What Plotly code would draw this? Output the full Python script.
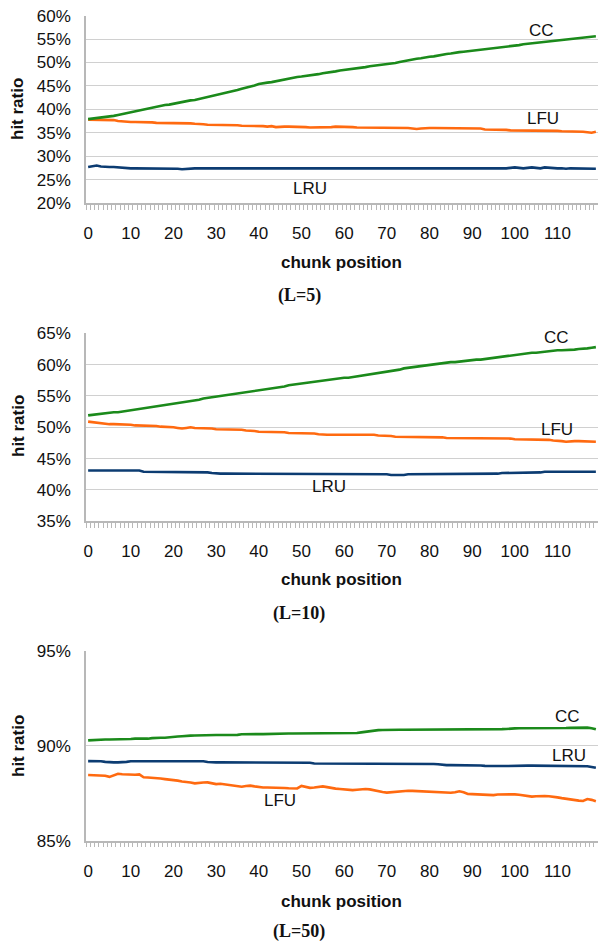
import plotly.graph_objects as go

positions = list(range(120))
x_tick_values = [0, 10, 20, 30, 40, 50, 60, 70, 80, 90, 100, 110]
x_tick_labels = [str(v) for v in x_tick_values]

# ---- L=5 ----
cc_l5 = [37.9, 38.0, 38.1, 38.3, 38.4, 38.5, 38.6, 38.8, 39.0, 39.2,
         39.4, 39.5, 39.7, 40.0, 40.2, 40.3, 40.5, 40.7, 40.9, 41.0,
         41.2, 41.4, 41.6, 41.7, 41.9, 42.0, 42.2, 42.4, 42.6, 42.8,
         43.0, 43.2, 43.5, 43.7, 43.9, 44.1, 44.4, 44.6, 44.8, 45.1,
         45.4, 45.6, 45.7, 45.8, 46.0, 46.2, 46.3, 46.5, 46.7, 46.9,
         47.0, 47.1, 47.2, 47.4, 47.5, 47.7, 47.8, 47.9, 48.1, 48.3,
         48.4, 48.5, 48.6, 48.8, 48.9, 49.0, 49.2, 49.3, 49.4, 49.5,
         49.7, 49.8, 49.9, 50.1, 50.3, 50.4, 50.6, 50.8, 50.9, 51.1,
         51.2, 51.3, 51.5, 51.6, 51.8, 51.9, 52.1, 52.2, 52.3, 52.4,
         52.5, 52.6, 52.8, 52.9, 53.0, 53.1, 53.2, 53.3, 53.4, 53.5,
         53.6, 53.7, 53.9, 54.0, 54.1, 54.3, 54.4, 54.5, 54.6, 54.6,
         54.7, 54.8, 54.9, 55.0, 55.1, 55.2, 55.3, 55.4, 55.5, 55.6]
lfu_l5 = [37.8, 37.8, 37.8, 37.8, 37.7, 37.7, 37.7, 37.5, 37.4, 37.3,
          37.3, 37.3, 37.3, 37.2, 37.2, 37.2, 37.1, 37.1, 37.1, 37.1,
          37.1, 37.0, 37.0, 37.0, 37.0, 36.9, 36.9, 36.8, 36.7, 36.7,
          36.7, 36.7, 36.6, 36.6, 36.6, 36.6, 36.5, 36.5, 36.4, 36.4,
          36.4, 36.4, 36.3, 36.4, 36.2, 36.3, 36.3, 36.3, 36.3, 36.2,
          36.2, 36.2, 36.1, 36.1, 36.1, 36.1, 36.1, 36.2, 36.3, 36.3,
          36.2, 36.2, 36.2, 36.1, 36.1, 36.1, 36.1, 36.1, 36.1, 36.0,
          36.0, 36.0, 36.0, 36.0, 36.0, 36.0, 35.9, 35.8, 35.9, 36.0,
          36.0, 36.0, 36.0, 36.0, 36.0, 36.0, 36.0, 35.9, 36.0, 36.0,
          36.0, 36.0, 35.9, 35.7, 35.7, 35.7, 35.6, 35.6, 35.6, 35.5,
          35.5, 35.5, 35.5, 35.5, 35.4, 35.4, 35.4, 35.4, 35.4, 35.4,
          35.4, 35.3, 35.3, 35.3, 35.3, 35.3, 35.2, 35.1, 35.0, 35.2]
lru_l5 = [27.7, 27.8, 28.0, 27.8, 27.7, 27.7, 27.7, 27.6, 27.5, 27.4,
          27.4, 27.4, 27.4, 27.4, 27.4, 27.4, 27.4, 27.4, 27.4, 27.4,
          27.4, 27.3, 27.2, 27.3, 27.4, 27.4, 27.4, 27.4, 27.4, 27.4,
          27.4, 27.4, 27.4, 27.4, 27.4, 27.4, 27.4, 27.4, 27.4, 27.4,
          27.4, 27.4, 27.4, 27.4, 27.4, 27.4, 27.4, 27.4, 27.4, 27.4,
          27.4, 27.4, 27.4, 27.3, 27.4, 27.4, 27.4, 27.4, 27.4, 27.4,
          27.4, 27.4, 27.3, 27.4, 27.4, 27.4, 27.4, 27.4, 27.4, 27.4,
          27.4, 27.4, 27.3, 27.3, 27.4, 27.4, 27.4, 27.4, 27.4, 27.4,
          27.4, 27.4, 27.4, 27.4, 27.4, 27.4, 27.4, 27.4, 27.4, 27.4,
          27.4, 27.4, 27.4, 27.4, 27.4, 27.4, 27.4, 27.4, 27.4, 27.5,
          27.6, 27.5, 27.4, 27.5, 27.6, 27.5, 27.4, 27.6, 27.5, 27.4,
          27.4, 27.4, 27.3, 27.4, 27.4, 27.4, 27.4, 27.3, 27.3, 27.3]

# ---- L=10 ----
cc_l10 = [51.9, 52.0, 52.1, 52.2, 52.2, 52.3, 52.4, 52.4, 52.5, 52.7,
          52.8, 52.8, 52.9, 53.0, 53.1, 53.2, 53.3, 53.4, 53.5, 53.6,
          53.7, 53.9, 54.0, 54.1, 54.2, 54.3, 54.4, 54.6, 54.7, 54.8,
          54.9, 55.1, 55.2, 55.3, 55.4, 55.5, 55.6, 55.7, 55.8, 55.9,
          56.0, 56.1, 56.1, 56.2, 56.3, 56.4, 56.5, 56.7, 56.8, 56.9,
          57.0, 57.1, 57.2, 57.3, 57.4, 57.4, 57.5, 57.6, 57.7, 57.8,
          57.9, 57.9, 58.0, 58.1, 58.2, 58.3, 58.4, 58.5, 58.6, 58.8,
          58.9, 59.0, 59.1, 59.2, 59.4, 59.5, 59.6, 59.7, 59.8, 59.9,
          60.0, 60.1, 60.2, 60.2, 60.3, 60.4, 60.4, 60.5, 60.6, 60.6,
          60.7, 60.8, 60.8, 60.9, 61.0, 61.0, 61.1, 61.2, 61.3, 61.4,
          61.5, 61.6, 61.7, 61.8, 61.9, 61.9, 62.0, 62.1, 62.2, 62.2,
          62.3, 62.3, 62.3, 62.4, 62.4, 62.5, 62.5, 62.6, 62.7, 62.8]
lfu_l10 = [50.9, 50.8, 50.7, 50.6, 50.6, 50.5, 50.5, 50.5, 50.4, 50.4,
           50.4, 50.3, 50.3, 50.3, 50.2, 50.2, 50.2, 50.1, 50.1, 50.0,
           50.0, 49.9, 49.8, 49.9, 50.0, 49.9, 49.9, 49.8, 49.8, 49.8,
           49.7, 49.7, 49.6, 49.6, 49.6, 49.6, 49.6, 49.5, 49.5, 49.4,
           49.3, 49.3, 49.3, 49.3, 49.3, 49.2, 49.2, 49.1, 49.1, 49.0,
           49.1, 49.0, 49.0, 49.0, 48.9, 48.8, 48.8, 48.8, 48.8, 48.9,
           48.9, 48.9, 48.9, 48.9, 48.8, 48.8, 48.8, 48.8, 48.7, 48.7,
           48.6, 48.6, 48.5, 48.5, 48.5, 48.5, 48.5, 48.4, 48.4, 48.4,
           48.4, 48.4, 48.4, 48.4, 48.3, 48.3, 48.3, 48.3, 48.3, 48.2,
           48.2, 48.2, 48.2, 48.2, 48.2, 48.2, 48.2, 48.2, 48.2, 48.2,
           48.1, 48.1, 48.1, 48.1, 48.0, 48.0, 48.0, 48.0, 48.0, 47.9,
           47.9, 47.8, 47.7, 47.8, 47.8, 47.8, 47.8, 47.7, 47.7, 47.7]
lru_l10 = [43.1, 43.1, 43.1, 43.1, 43.1, 43.1, 43.1, 43.1, 43.1, 43.1,
           43.1, 43.1, 43.1, 42.9, 42.9, 42.9, 42.9, 42.9, 42.9, 42.9,
           42.9, 42.9, 42.9, 42.8, 42.8, 42.8, 42.8, 42.8, 42.8, 42.7,
           42.6, 42.6, 42.6, 42.6, 42.6, 42.6, 42.6, 42.6, 42.5, 42.6,
           42.6, 42.6, 42.5, 42.5, 42.6, 42.6, 42.6, 42.6, 42.5, 42.5,
           42.5, 42.5, 42.5, 42.5, 42.5, 42.5, 42.5, 42.5, 42.5, 42.5,
           42.5, 42.6, 42.6, 42.6, 42.6, 42.6, 42.5, 42.5, 42.5, 42.5,
           42.5, 42.4, 42.4, 42.3, 42.4, 42.5, 42.5, 42.5, 42.6, 42.6,
           42.6, 42.6, 42.6, 42.6, 42.6, 42.6, 42.6, 42.5, 42.5, 42.5,
           42.6, 42.6, 42.5, 42.5, 42.6, 42.6, 42.6, 42.7, 42.7, 42.7,
           42.7, 42.7, 42.7, 42.7, 42.7, 42.8, 42.8, 42.9, 42.9, 42.9,
           42.9, 42.9, 42.9, 42.9, 42.9, 42.9, 42.9, 42.9, 42.9, 42.9]

# ---- L=50 ----
cc_l50 = [90.28, 90.30, 90.32, 90.32, 90.33, 90.33, 90.33, 90.33, 90.33, 90.33,
          90.35, 90.37, 90.37, 90.35, 90.37, 90.40, 90.42, 90.42, 90.42, 90.43,
          90.46, 90.48, 90.50, 90.53, 90.53, 90.54, 90.55, 90.55, 90.55, 90.55,
          90.56, 90.56, 90.56, 90.56, 90.56, 90.57, 90.60, 90.61, 90.61, 90.61,
          90.61, 90.61, 90.62, 90.63, 90.64, 90.64, 90.64, 90.64, 90.64, 90.64,
          90.64, 90.64, 90.65, 90.65, 90.65, 90.65, 90.65, 90.65, 90.65, 90.65,
          90.65, 90.65, 90.66, 90.67, 90.70, 90.74, 90.77, 90.80, 90.82, 90.83,
          90.84, 90.84, 90.84, 90.84, 90.84, 90.84, 90.84, 90.84, 90.84, 90.84,
          90.85, 90.85, 90.87, 90.87, 90.87, 90.87, 90.87, 90.87, 90.87, 90.87,
          90.87, 90.87, 90.87, 90.87, 90.87, 90.87, 90.87, 90.87, 90.88, 90.88,
          90.91, 90.92, 90.92, 90.92, 90.92, 90.91, 90.90, 90.93, 90.93, 90.93,
          90.93, 90.93, 90.93, 90.94, 90.94, 90.95, 90.96, 90.95, 90.92, 90.86]
lfu_l50 = [88.46, 88.45, 88.45, 88.44, 88.42, 88.36, 88.42, 88.52, 88.50, 88.48,
           88.46, 88.47, 88.49, 88.34, 88.33, 88.32, 88.30, 88.27, 88.24, 88.22,
           88.18, 88.16, 88.12, 88.10, 88.06, 88.02, 88.05, 88.06, 88.07, 88.02,
           87.98, 88.00, 87.97, 87.95, 87.92, 87.86, 87.84, 87.88, 87.90, 87.86,
           87.82, 87.80, 87.80, 87.80, 87.79, 87.78, 87.77, 87.76, 87.76, 87.75,
           87.88, 87.82, 87.78, 87.80, 87.84, 87.86, 87.82, 87.76, 87.74, 87.72,
           87.70, 87.66, 87.66, 87.68, 87.70, 87.72, 87.70, 87.64, 87.60, 87.56,
           87.53, 87.55, 87.59, 87.62, 87.63, 87.63, 87.62, 87.61, 87.60, 87.60,
           87.58, 87.57, 87.56, 87.55, 87.54, 87.52, 87.55, 87.60, 87.55, 87.46,
           87.45, 87.44, 87.43, 87.42, 87.38, 87.40, 87.43, 87.44, 87.45, 87.45,
           87.44, 87.42, 87.38, 87.35, 87.32, 87.34, 87.36, 87.35, 87.34, 87.32,
           87.28, 87.24, 87.20, 87.16, 87.14, 87.11, 87.09, 87.19, 87.15, 87.08]
lru_l50 = [89.19, 89.19, 89.19, 89.18, 89.15, 89.12, 89.12, 89.12, 89.12, 89.15,
           89.18, 89.18, 89.18, 89.18, 89.18, 89.18, 89.18, 89.18, 89.18, 89.18,
           89.18, 89.18, 89.18, 89.18, 89.18, 89.18, 89.18, 89.18, 89.14, 89.12,
           89.12, 89.12, 89.12, 89.12, 89.12, 89.12, 89.10, 89.10, 89.10, 89.10,
           89.10, 89.10, 89.10, 89.10, 89.10, 89.10, 89.10, 89.10, 89.10, 89.10,
           89.10, 89.10, 89.10, 89.06, 89.06, 89.06, 89.06, 89.06, 89.06, 89.05,
           89.04, 89.04, 89.04, 89.04, 89.04, 89.04, 89.04, 89.04, 89.04, 89.04,
           89.04, 89.04, 89.04, 89.04, 89.04, 89.04, 89.04, 89.04, 89.04, 89.04,
           89.04, 89.04, 89.02, 88.98, 88.98, 88.98, 88.98, 88.98, 88.98, 88.98,
           88.98, 88.98, 88.96, 88.94, 88.93, 88.93, 88.93, 88.93, 88.93, 88.94,
           88.95, 88.95, 88.95, 88.95, 88.95, 88.95, 88.95, 88.95, 88.95, 88.95,
           88.95, 88.95, 88.95, 88.95, 88.95, 88.95, 88.95, 88.92, 88.88, 88.84]

panels = [
    dict(cc=cc_l5, lfu=lfu_l5, lru=lru_l5, yr=[20, 60], top=15.6, bot=203.0,
         caption="(L=5)", title_y=109, xt_y=262, cap_y=295,
         labels=[("CC", 106.2, 56.9), ("LFU", 106.5, 38.1), ("LRU", 52.0, 23.2)]),
    dict(cc=cc_l10, lfu=lfu_l10, lru=lru_l10, yr=[35, 65], top=333.3, bot=521.3,
         caption="(L=10)", title_y=426, xt_y=579, cap_y=613,
         labels=[("CC", 109.8, 64.25), ("LFU", 110.0, 49.6), ("LRU", 56.4, 40.5)]),
    dict(cc=cc_l50, lfu=lfu_l50, lru=lru_l50, yr=[85, 95], top=650.7, bot=840.7,
         caption="(L=50)", title_y=746, xt_y=901, cap_y=931,
         labels=[("CC", 112.4, 91.56), ("LRU", 112.6, 89.51), ("LFU", 44.9, 87.09)]),
]

W, H = 598, 943
C_CC, C_LFU, C_LRU = "#1b8a1b", "#ff6a10", "#0c3c72"
FONT = "Liberation Sans, Arial, sans-serif"

fig = go.Figure()
layout = dict(width=W, height=H, margin=dict(l=0, r=0, t=0, b=0, autoexpand=False),
              paper_bgcolor="white", plot_bgcolor="white", showlegend=False,
              font=dict(family=FONT, size=17, color="#111"))
annotations = []

def py(p):
    return 1 - p / H

x_left = 86.0
for k, p in enumerate(panels):
    n = "" if k == 0 else str(k + 1)
    xa, ya = "x" + n, "y" + n
    for ser, col in ((p["lru"], C_LRU), (p["lfu"], C_LFU), (p["cc"], C_CC)):
        fig.add_trace(go.Scatter(x=positions, y=ser, mode="lines", xaxis=xa, yaxis=ya,
                                 line=dict(color=col, width=2.6), hoverinfo="skip"))
    layout["xaxis" + n] = dict(domain=[x_left / W, 1.0], anchor=ya, range=[-0.5, 119.5],
                               automargin=False,
                               tickmode="array", tickvals=x_tick_values, ticktext=x_tick_labels,
                               ticks="", showgrid=False, zeroline=False,
                               showline=True, linecolor="#b8b8b8", linewidth=1.5,
                               ticklabelstandoff=14,
                               tickfont=dict(size=17, family=FONT, color="#111"),
                               minor=dict(ticks="outside", tickmode="array",
                                          tickvals=[i - 0.5 for i in range(121)],
                                          ticklen=5, tickwidth=1, tickcolor="#b8b8b8",
                                          showgrid=False))
    layout["yaxis" + n] = dict(domain=[py(p["bot"]), py(p["top"])], anchor=xa, range=p["yr"],
                               automargin=False,
                               dtick=5, ticksuffix="%", ticks="", showgrid=True,
                               gridcolor="#d0d0d0", gridwidth=1.2, zeroline=False,
                               showline=True, linecolor="#b8b8b8", linewidth=1.5,
                               ticklabelstandoff=10,
                               tickfont=dict(size=17, family=FONT, color="#111"))
    annotations.append(dict(text="<b>hit ratio</b>", textangle=-90, xref="paper", yref="paper",
                            x=18 / W, y=py(p["title_y"]), showarrow=False,
                            font=dict(size=17, family=FONT, color="#111"),
                            xanchor="center", yanchor="middle"))
    annotations.append(dict(text="<b>chunk position</b>", xref="paper", yref="paper",
                            x=(x_left + W) / 2 / W, y=py(p["xt_y"]), showarrow=False,
                            font=dict(size=17, family=FONT, color="#111"),
                            xanchor="center", yanchor="middle"))
    annotations.append(dict(text="<b>" + p["caption"] + "</b>", xref="paper", yref="paper",
                            x=0.5, y=py(p["cap_y"]), showarrow=False,
                            font=dict(size=18, family="Liberation Serif, Times New Roman, serif",
                                      color="#111"),
                            xanchor="center", yanchor="middle"))
    for txt, lx, ly in p["labels"]:
        annotations.append(dict(text=txt, xref=xa, yref=ya, x=lx, y=ly, showarrow=False,
                                font=dict(size=17, family=FONT, color="#111"),
                                xanchor="center", yanchor="middle"))

layout["annotations"] = annotations
fig.update_layout(**layout)
fig.write_html("out.html")
